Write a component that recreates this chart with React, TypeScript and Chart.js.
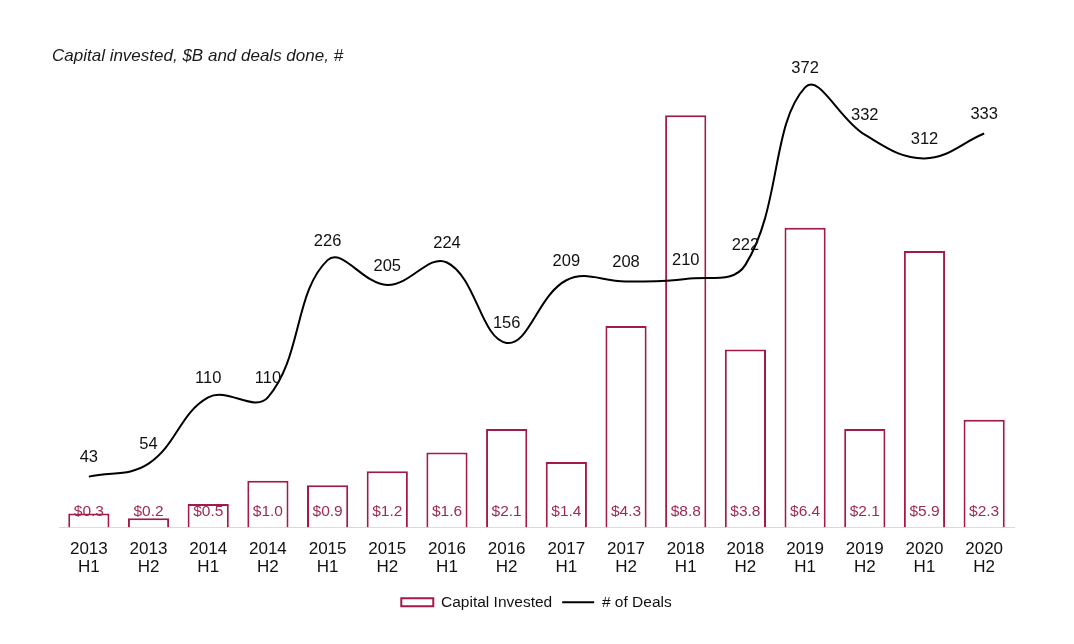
import React, { useEffect, useRef } from "react";
import { Chart, registerables } from "chart.js";

Chart.register(...registerables);

const categories: string[][] = [
  ["2013", "H1"], ["2013", "H2"], ["2014", "H1"], ["2014", "H2"],
  ["2015", "H1"], ["2015", "H2"], ["2016", "H1"], ["2016", "H2"],
  ["2017", "H1"], ["2017", "H2"], ["2018", "H1"], ["2018", "H2"],
  ["2019", "H1"], ["2019", "H2"], ["2020", "H1"], ["2020", "H2"],
];
const capitalInvested: number[] = [0.3, 0.2, 0.5, 1.0, 0.9, 1.2, 1.6, 2.1, 1.4, 4.3, 8.8, 3.8, 6.4, 2.1, 5.9, 2.3];
const dealCount: number[] = [43, 54, 110, 110, 226, 205, 224, 156, 209, 208, 210, 222, 372, 332, 312, 333];

const chartTitle = "Capital invested, $B and deals done, #";
const barColor = "#A11A4B";
const barLabelColor = "#A02A57";
const FONT = "'Liberation Sans', Arial, sans-serif";

const labelsPlugin = {
  id: "customLabels",
  afterDatasetsDraw(chart: any) {
    const ctx = chart.ctx;
    const x = chart.scales.x;
    const y1 = chart.scales.y;
    const y2 = chart.scales.y2;
    ctx.save();
    ctx.textAlign = "center";
    ctx.textBaseline = "middle";
    ctx.font = `15.5px ${FONT}`;
    ctx.fillStyle = barLabelColor;
    capitalInvested.forEach((v, i) => {
      ctx.fillText("$" + v.toFixed(1), x.getPixelForValue(i), y1.getPixelForValue(0) - 16);
    });
    ctx.font = `16.5px ${FONT}`;
    ctx.fillStyle = "#111";
    dealCount.forEach((v, i) => {
      ctx.fillText(String(v), x.getPixelForValue(i), y2.getPixelForValue(v) - 19);
    });
    ctx.font = `italic 17px ${FONT}`;
    ctx.textAlign = "left";
    ctx.fillStyle = "#1a1a1a";
    ctx.fillText(chartTitle, 52, 56);
    ctx.restore();
  },
};

export default function App() {
  const ref = useRef<HTMLCanvasElement | null>(null);
  useEffect(() => {
    if (!ref.current) return;
    const chart = new Chart(ref.current, {
      data: {
        labels: categories,
        datasets: [
          {
            type: "line",
            label: "# of Deals",
            data: dealCount,
            yAxisID: "y2",
            borderColor: "#000",
            backgroundColor: "#000",
            borderWidth: 2,
            pointRadius: 0,
            tension: 0.4,
            order: 0,
          },
          {
            type: "bar",
            label: "Capital Invested",
            data: capitalInvested,
            yAxisID: "y",
            backgroundColor: "#fff",
            borderColor: barColor,
            borderWidth: 2,
            barPercentage: 0.69,
            categoryPercentage: 1,
            order: 1,
          },
        ],
      } as any,
      options: {
        animation: false,
        responsive: false,
        maintainAspectRatio: false,
        layout: { padding: { left: 59, right: 60, top: 59, bottom: 24 } },
        scales: {
          x: {
            grid: { display: false },
            border: { display: true, color: "#d9d9d9", width: 1 },
            ticks: {
              color: "#111",
              font: { family: FONT, size: 17, lineHeight: 1.05 },
              padding: 5,
              maxRotation: 0,
              autoSkip: false,
            },
            afterFit: (s: any) => { s.height = 57; },
          },
          y: { display: false, min: 0, max: 10 },
          y2: { display: false, min: 0, max: 396, position: "right" },
        },
        plugins: {
          legend: {
            position: "bottom",
            labels: {
              usePointStyle: true,
              pointStyleWidth: 32,
              boxHeight: 8,
              padding: 10,
              color: "#111",
              font: { family: FONT, size: 15.5 },
              generateLabels: () => [
                { text: "Capital Invested", fillStyle: "#fff", strokeStyle: barColor, lineWidth: 2, pointStyle: "rect", datasetIndex: 1, hidden: false, fontColor: "#111" },
                { text: "# of Deals", fillStyle: "#000", strokeStyle: "#000", lineWidth: 2, pointStyle: "line", datasetIndex: 0, hidden: false, fontColor: "#111" },
              ],
            },
          },
          tooltip: { enabled: false },
          title: { display: false },
        },
      } as any,
      plugins: [labelsPlugin],
    });
    return () => chart.destroy();
  }, []);
  return (
    <div style={{ position: "fixed", left: 0, top: 0, width: 1074, height: 644, background: "#fff" }}>
      <canvas ref={ref} width={1074} height={644} style={{ width: 1074, height: 644 }} />
    </div>
  );
}
